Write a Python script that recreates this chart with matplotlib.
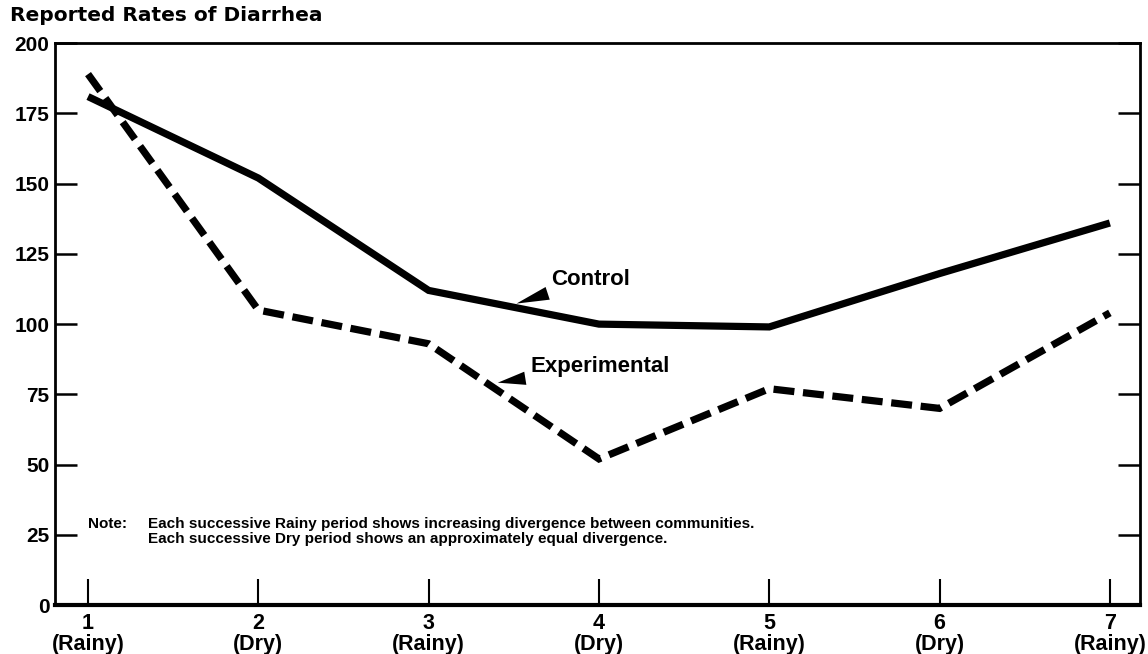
import matplotlib
matplotlib.use("Agg")
import matplotlib.pyplot as plt

# --- data ---
periods = [1, 2, 3, 4, 5, 6, 7]
seasons = ["Rainy", "Dry", "Rainy", "Dry", "Rainy", "Dry", "Rainy"]
control = [181, 152, 112, 100, 99, 118, 136]
experimental = [189, 105, 93, 52, 77, 70, 104]
y_ticks = [0, 25, 50, 75, 100, 125, 150, 175, 200]

note_lines = [
    "Each successive Rainy period shows increasing divergence between communities.",
    "Each successive Dry period shows an approximately equal divergence.",
]

FONT = "Liberation Sans"

fig = plt.figure(figsize=(11.48, 6.54), dpi=100)
ax = fig.add_axes([0.0479, 0.0749, 0.945, 0.859])

ax.plot(periods, control, color="black", lw=5.2, solid_capstyle="butt",
        solid_joinstyle="miter")
ax.plot(periods, experimental, color="black", lw=5.2, dashes=(2.9, 1.2),
        dash_capstyle="butt", dash_joinstyle="miter")

ax.set_xlim(0.806, 7.176)
ax.set_ylim(0, 200)

ax.set_xticks(periods)
ax.set_xticklabels([f"{p}\n({s})" for p, s in zip(periods, seasons)],
                   fontsize=15.5, fontweight="bold", family=FONT, linespacing=1.0)
ax.set_yticks(y_ticks)
ax.set_yticklabels([str(v) for v in y_ticks], fontsize=15,
                   fontweight="bold", family=FONT)

ax.tick_params(axis="x", direction="in", length=19, width=1.5, pad=6)
ax.tick_params(axis="y", direction="in", length=16, width=1.8, pad=4,
               right=True)

for side, w in [("left", 2.0), ("bottom", 3.0), ("top", 2.0), ("right", 2.0)]:
    ax.spines[side].set_linewidth(w)

# wedge labels
wedge = dict(arrowstyle="wedge,tail_width=0.6,shrink_factor=0.5",
             color="black", lw=0)
ax.annotate("Control", xy=(3.5, 107), xytext=(3.72, 116),
            fontsize=16, fontweight="bold", family=FONT, va="center",
            arrowprops=wedge)
ax.annotate("Experimental", xy=(3.39, 79), xytext=(3.6, 85),
            fontsize=16, fontweight="bold", family=FONT, va="center",
            arrowprops=wedge)

# note
ax.text(1.0, 29.0, "Note:", fontsize=11, fontweight="bold", family=FONT,
        va="center")
ax.text(1.35, 29.0, note_lines[0], fontsize=11, fontweight="bold",
        family=FONT, va="center")
ax.text(1.35, 23.4, note_lines[1], fontsize=11, fontweight="bold",
        family=FONT, va="center")

fig.text(0.009, 0.977, "Reported Rates of Diarrhea", fontsize=14.5,
         fontweight="bold", family="DejaVu Sans", va="center", ha="left")

fig.savefig("out.png", dpi=100)
